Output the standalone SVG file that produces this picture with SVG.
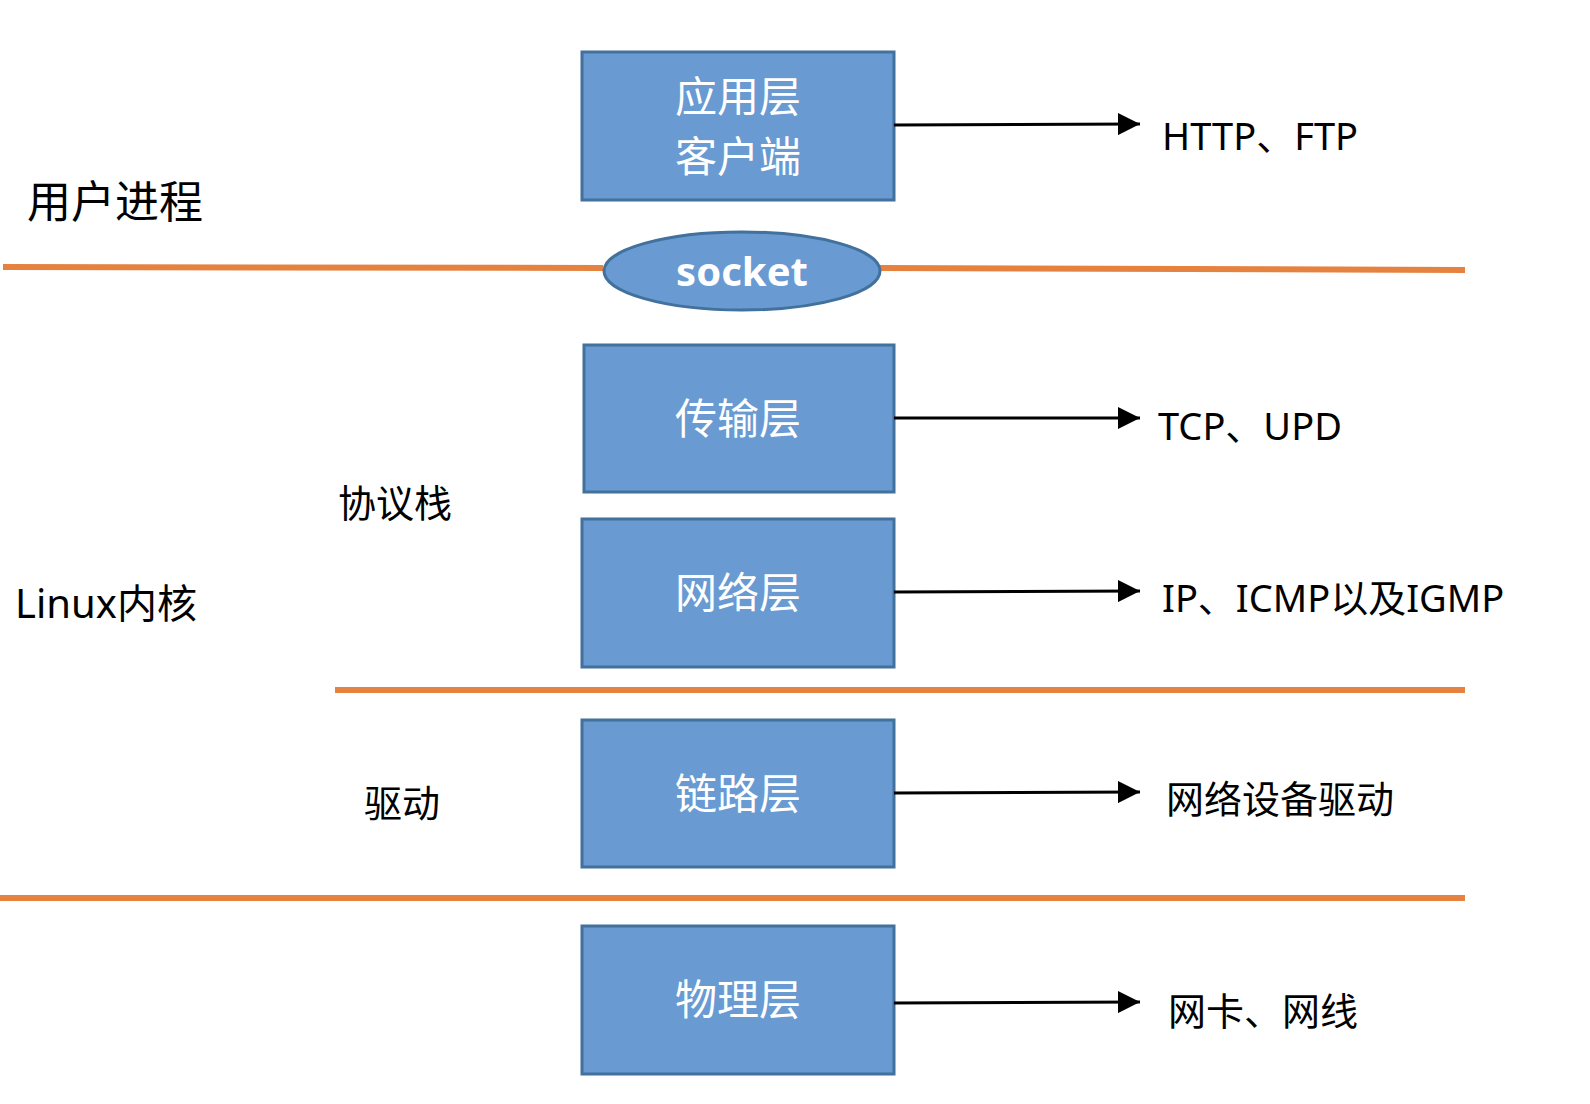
<svg xmlns="http://www.w3.org/2000/svg" width="1590" height="1104" viewBox="0 0 1590 1104">
<style>
.box{fill:#699ad2;stroke:#41719c;stroke-width:3}
.bt{font-family:"Noto Sans","Noto Sans CJK SC",sans-serif;font-size:42px;fill:#fff;text-anchor:middle}
.lb{font-family:"Noto Sans","Noto Sans CJK SC",sans-serif;font-size:38px;fill:#000}
.ol{stroke:#e6823f;stroke-width:6;fill:none}
.ar{stroke:#000;stroke-width:3;fill:none;marker-end:url(#ah)}
</style>
<defs><marker id="ah" markerWidth="10" markerHeight="10" refX="9" refY="5" orient="auto" markerUnits="userSpaceOnUse" viewBox="0 0 10 10"><path d="M0,0L10,5L0,10z" fill="#000" transform="scale(1)"/></marker>
<marker id="ah2" viewBox="0 0 10 10" refX="10" refY="5" markerWidth="22" markerHeight="22" markerUnits="userSpaceOnUse" orient="auto"><path d="M0,0L10,5L0,10z" fill="#000"/></marker></defs>
<rect width="1590" height="1104" fill="#fff"/>
<g id="separators">
<line class="ol" x1="3" y1="267" x2="603" y2="268"/>
<line class="ol" x1="880" y1="268" x2="1465" y2="270"/>
<line class="ol" x1="335" y1="690" x2="1465" y2="690"/>
<line class="ol" x1="0" y1="898" x2="1465" y2="898"/>
</g>
<g id="n-app"><rect class="box" x="582" y="52" width="312" height="148"/><text class="bt" x="738" y="112">应用层</text><text class="bt" x="738" y="172">客户端</text></g>
<g id="n-socket"><ellipse cx="742" cy="271" rx="138" ry="39" fill="#699ad2" stroke="#41719c" stroke-width="3"/><text class="bt" x="742" y="286" style="font-weight:bold;font-size:40px">socket</text></g>
<g id="n-trans"><rect class="box" x="584" y="345" width="310" height="147"/><text class="bt" x="738" y="434">传输层</text></g>
<g id="n-net"><rect class="box" x="582" y="519" width="312" height="148"/><text class="bt" x="738" y="608">网络层</text></g>
<g id="n-link"><rect class="box" x="582" y="720" width="312" height="147"/><text class="bt" x="738" y="809">链路层</text></g>
<g id="n-phy"><rect class="box" x="582" y="926" width="312" height="148"/><text class="bt" x="738" y="1015">物理层</text></g>
<g id="connectors">
<line x1="894" y1="125" x2="1140" y2="124" stroke="#000" stroke-width="3" marker-end="url(#ah2)"/>
<line x1="894" y1="418" x2="1140" y2="418" stroke="#000" stroke-width="3" marker-end="url(#ah2)"/>
<line x1="894" y1="592" x2="1140" y2="591" stroke="#000" stroke-width="3" marker-end="url(#ah2)"/>
<line x1="894" y1="793" x2="1140" y2="792" stroke="#000" stroke-width="3" marker-end="url(#ah2)"/>
<line x1="894" y1="1003" x2="1140" y2="1002" stroke="#000" stroke-width="3" marker-end="url(#ah2)"/>
</g>
<g id="labels">
<text class="lb" x="1162" y="150">HTTP、FTP</text>
<text class="lb" x="1158" y="440">TCP、UPD</text>
<text class="lb" x="1162" y="612">IP、ICMP以及IGMP</text>
<text class="lb" x="1166" y="813">网络设备驱动</text>
<text class="lb" x="1168" y="1025">网卡、网线</text>
<text class="lb" x="27" y="218" style="font-size:44px">用户进程</text>
<text class="lb" x="15" y="618" style="font-size:40px">Linux内核</text>
<text class="lb" x="338" y="517">协议栈</text>
<text class="lb" x="364" y="817">驱动</text>
</g>
</svg>
